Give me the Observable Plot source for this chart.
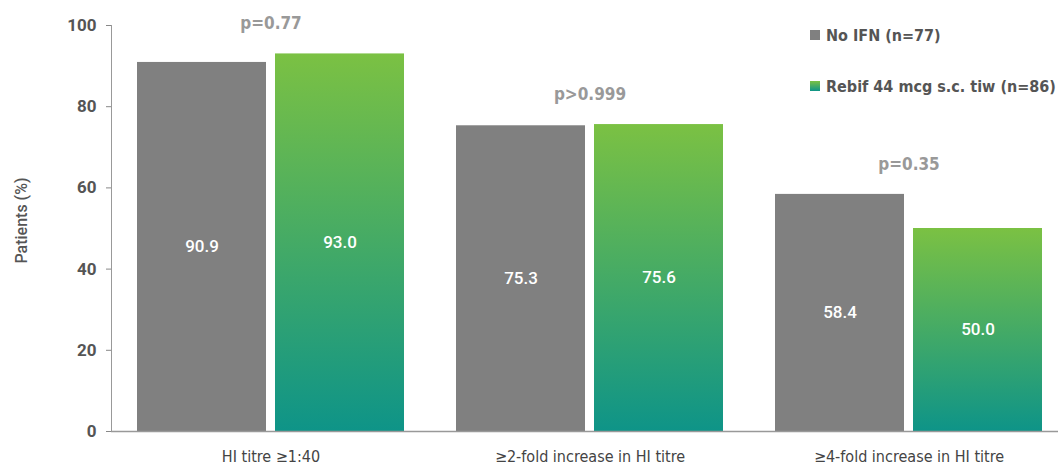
<!DOCTYPE html>
<html>
<head>
<meta charset="utf-8">
<script src="https://cdn.jsdelivr.net/npm/d3@7"></script>
<script src="https://cdn.jsdelivr.net/npm/@observablehq/plot@0.6"></script>
<style>
  html, body { margin: 0; padding: 0; background: #fff; }
  #wrap { position: relative; width: 1058px; height: 466px; overflow: hidden; }
  .cond { font-family: "Liberation Sans Narrow", "DejaVu Sans Condensed", "Roboto", sans-serif; }
  #legend { position: absolute; left: 810px; top: 0; font-weight: bold; font-size: 16px; color: #555; white-space: nowrap; }
  .item { position: absolute; left: 0; display: flex; align-items: center; }
  .sw { width: 10px; height: 10px; margin-right: 6px; }
</style>
</head>
<body>
<div id="wrap">
  <div id="chart"></div>
  <div id="legend" class="cond"></div>
</div>
<script>
const categories = ["HI titre ≥1:40", "≥2-fold increase in HI titre", "≥4-fold increase in HI titre"];
const series = ["No IFN (n=77)", "Rebif 44 mcg s.c. tiw (n=86)"];
const noIfn = [90.9, 75.3, 58.4];
const rebif = [93.0, 75.6, 50.0];
const pValues = ["p=0.77", "p>0.999", "p=0.35"];
const yTicks = [0, 20, 40, 60, 80, 100];
const yLabel = "Patients (%)";

const data = categories.flatMap((c, i) => [
  {category: c, series: series[0], value: noIfn[i]},
  {category: c, series: series[1], value: rebif[i]}
]);
const pData = categories.map((c, i) => ({category: c, p: pValues[i], top: Math.max(noIfn[i], rebif[i])}));

const GREEN_TOP = "#7bc143", TEAL_BOTTOM = "#0e9488", GRAY = "#808080";
const fillFor = s => s === series[0] ? GRAY : "url(#rebifGrad)";

const condFont = '"Liberation Sans Narrow", "DejaVu Sans Condensed", Roboto, sans-serif';

const chart = Plot.plot({
  width: 1058,
  height: 466,
  marginTop: 25,
  marginBottom: 35,
  marginLeft: 110,
  marginRight: -10,
  style: {fontFamily: "Roboto, sans-serif", background: "#fff", overflow: "visible"},
  fx: {domain: categories, padding: 0, label: null},
  x: {domain: series, paddingInner: 0.065, paddingOuter: 0.18, axis: null},
  y: {domain: [0, 100], label: null},
  marks: [
    () => {
      const ns = "http://www.w3.org/2000/svg";
      const defs = document.createElementNS(ns, "defs");
      defs.innerHTML = `<linearGradient id="rebifGrad" x1="0" y1="0" x2="0" y2="1">
        <stop offset="0" stop-color="${GREEN_TOP}"/><stop offset="1" stop-color="${TEAL_BOTTOM}"/></linearGradient>`;
      return defs;
    },
    Plot.barY(data, {fx: "category", x: "series", y: "value", fill: d => fillFor(d.series)}),
    Plot.text(data, {fx: "category", x: "series", y: d => d.value / 2, text: d => d.value.toFixed(1),
      fill: "white", fontSize: 17, fontWeight: 500}),
    Plot.text(pData, {fx: "category", y: "top", text: "p", dy: -30, fill: "#999", fontSize: 17,
      fontWeight: "bold", fontFamily: condFont}),
    Plot.axisY({ticks: yTicks, tickSize: 5, tickPadding: 10, fontSize: 17, fontWeight: "bold", color: "#555",
      stroke: "#888", label: null}),
    Plot.text([yLabel], {text: d => d, frameAnchor: "left", textAnchor: "middle", facetAnchor: "left",
      rotate: -90, dx: -90, dy: -8, fontSize: 16, fill: "#555", fontWeight: 500}),
    Plot.frame({anchor: "left", facetAnchor: "left", stroke: "#999", strokeWidth: 1}),
    Plot.axisFx({anchor: "bottom", tickSize: 0, tickPadding: 19, fontSize: 16, fill: "#444",
      fontFamily: condFont, label: null}),
    Plot.ruleY([0], {stroke: "#999", strokeWidth: 1.5})
  ]
});
document.getElementById("chart").appendChild(chart);

// legend
const legend = document.getElementById("legend");
const swFills = [GRAY, `linear-gradient(${GREEN_TOP}, ${TEAL_BOTTOM})`];
const tops = [25, 76];
series.forEach((s, i) => {
  const item = document.createElement("div");
  item.className = "item";
  item.style.top = tops[i] + "px";
  item.style.height = "20px";
  const sw = document.createElement("div");
  sw.className = "sw";
  sw.style.background = swFills[i];
  const t = document.createElement("span");
  t.textContent = s;
  item.appendChild(sw); item.appendChild(t);
  legend.appendChild(item);
});
</script>
</body>
</html>
